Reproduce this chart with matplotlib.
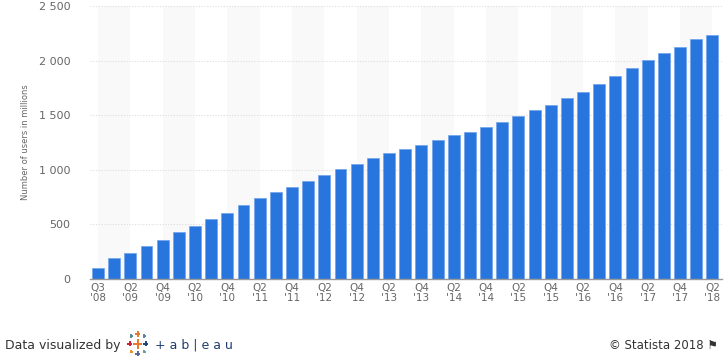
import matplotlib.pyplot as plt
from matplotlib.ticker import FuncFormatter

# quarterly monthly active users (millions), Q3 '08 .. Q2 '18 (no Q4 '08 entry)
quarters = ["Q3 '08", "Q1 '09", "Q2 '09", "Q3 '09", "Q4 '09",
            "Q1 '10", "Q2 '10", "Q3 '10", "Q4 '10",
            "Q1 '11", "Q2 '11", "Q3 '11", "Q4 '11",
            "Q1 '12", "Q2 '12", "Q3 '12", "Q4 '12",
            "Q1 '13", "Q2 '13", "Q3 '13", "Q4 '13",
            "Q1 '14", "Q2 '14", "Q3 '14", "Q4 '14",
            "Q1 '15", "Q2 '15", "Q3 '15", "Q4 '15",
            "Q1 '16", "Q2 '16", "Q3 '16", "Q4 '16",
            "Q1 '17", "Q2 '17", "Q3 '17", "Q4 '17",
            "Q1 '18", "Q2 '18"]
users = [100, 197, 242, 305, 360,
         431, 482, 550, 608,
         680, 739, 800, 845,
         901, 955, 1007, 1056,
         1110, 1155, 1189, 1228,
         1276, 1317, 1350, 1393,
         1441, 1490, 1545, 1591,
         1654, 1712, 1788, 1860,
         1936, 2006, 2072, 2129,
         2196, 2234]
yticks = [0, 500, 1000, 1500, 2000, 2500]

BLUE = "#2876dd"
GRAY = "#666666"

fig = plt.figure(figsize=(7.25, 3.56), dpi=100)
ax = fig.add_axes([0.124, 0.216, 0.872, 0.767])

x = list(range(len(users)))

# alternating background bands, two bars wide
for i in range(0, len(users), 4):
    ax.axvspan(i, min(i + 2, len(users) - 0.4), color="#f9f9f9", lw=0, zorder=0)

ax.bar(x, users, width=0.74, color=BLUE, edgecolor="#6fa3ea", linewidth=0.5, zorder=3)

ax.set_xlim(-0.5, 38.6)
ax.set_ylim(0, 2500)
ax.set_yticks(yticks)
ax.yaxis.set_major_formatter(FuncFormatter(lambda v, p: f"{int(v):,}".replace(",", " ")))
for yv in yticks[1:]:
    ax.axhline(yv, color="#dddddd", lw=0.8, ls=(0, (1, 1.5)), zorder=1)

tick_pos = x[::2]
ax.set_xticks(tick_pos)
ax.set_xticklabels([quarters[i].replace(" ", "\n") for i in tick_pos],
                   fontsize=7.5, color=GRAY, linespacing=0.95)
ax.tick_params(axis="x", length=0, pad=3)
ax.tick_params(axis="y", length=0, pad=14, labelsize=8, labelcolor=GRAY)

for s in ["top", "right", "left"]:
    ax.spines[s].set_visible(False)
ax.spines["bottom"].set_color("#999999")
ax.spines["bottom"].set_linewidth(1.0)
ax.spines["bottom"].set_zorder(4)

ax.set_ylabel("Number of users in millions", fontsize=6, color=GRAY)
ax.yaxis.set_label_coords(-0.094, 0.5)

# footer
fig.text(0.007, 0.012, "Data visualized by", fontsize=9, color="#333333", va="bottom")
# tableau-style cross cluster
cross_x = [0.190, 0.190, 0.190, 0.179, 0.201, 0.181, 0.199, 0.181, 0.199]
cross_y = [0.034, 0.062, 0.006, 0.034, 0.034, 0.056, 0.056, 0.012, 0.012]
cross_s = [45, 14, 14, 14, 14, 6, 6, 6, 6]
cross_c = ["#e8762b", "#e8762b", "#5b6591", "#c72035", "#1f447e",
           "#59879b", "#59879b", "#eb912b", "#7099a6"]
ax.scatter(cross_x, cross_y, s=cross_s, c=cross_c, marker="+", linewidths=1.4,
           transform=fig.transFigure, clip_on=False, zorder=5)
fig.text(0.214, 0.012, "+ a b | e a u", fontsize=9, color="#1f3c6e", va="bottom")
fig.text(0.99, 0.012, "\u00a9 Statista 2018 \u2691", fontsize=8.5, color="#333333",
         ha="right", va="bottom")

fig.savefig("out.png", dpi=100)
